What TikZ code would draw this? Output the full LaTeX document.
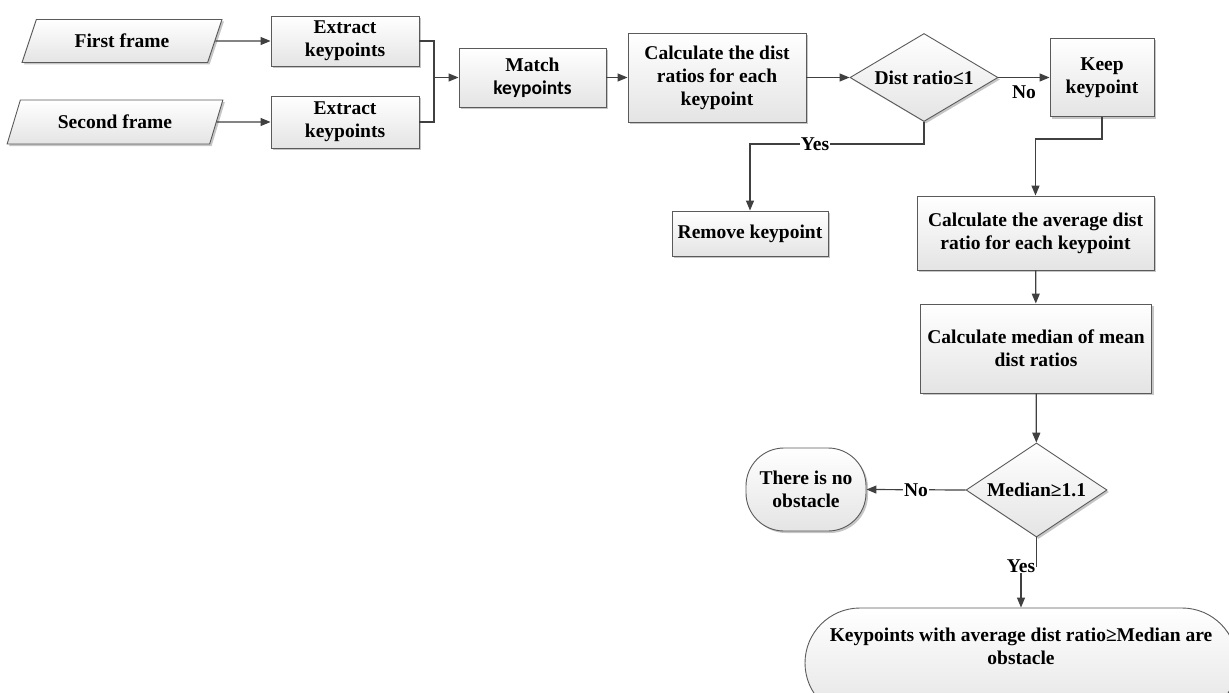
\documentclass[tikz,border=0pt]{standalone}
\usepackage{fontspec}
\setmainfont{Liberation Serif}
\newfontfamily\calib{Carlito}
\usetikzlibrary{shapes.geometric,arrows.meta,shadows}
\definecolor{linec}{HTML}{5A5A5A}
\definecolor{arrc}{HTML}{404040}
\definecolor{boxb}{HTML}{E4E4E4}
\begin{document}
\begin{tikzpicture}[x=1pt,y=-1pt,
  font=\fontsize{19.5}{23}\selectfont\bfseries,
  base/.style={draw=linec, line width=0.9pt, top color=white, bottom color=boxb,
    drop shadow={shadow xshift=2pt,shadow yshift=-2pt,fill=gray!45,opacity=1},
    align=center, inner sep=1pt},
  proc/.style={base, rectangle},
  io/.style={base, trapezium, trapezium left angle=63, trapezium right angle=117, trapezium stretches=true},
  dec/.style={base, diamond, inner sep=0pt},
  term/.style={base, rectangle},
  conn/.style={draw=arrc, line width=1.2pt},
  arr/.style={conn, -{Triangle[length=10pt,width=8pt]}},
  lab/.style={fill=white, inner sep=1pt}]
\useasboundingbox (0,0) rectangle (1229,693);

\node[io, minimum width=200pt, minimum height=43pt] (f1) at (122,41) {First frame};
\node[io, minimum width=216pt, minimum height=44pt] (f2) at (115,122) {Second frame};
\node[proc, minimum width=148pt, minimum height=50pt] (e1) at (345,41) {Extract\\keypoints};
\node[proc, minimum width=148pt, minimum height=52pt] (e2) at (345,122) {Extract\\keypoints};
\node[proc, minimum width=147pt, minimum height=59pt] (m) at (532.5,77.5) {Match\\{\calib keypoints}};
\node[proc, minimum width=178pt, minimum height=89pt] (c) at (717,77.5) {Calculate the dist\\ratios for each\\keypoint};
\node[dec, shape aspect=1.68, minimum width=148pt, minimum height=88pt] (d1) at (924,77.5) {Dist ratio≤1};
\node[proc, minimum width=104pt, minimum height=78pt] (k) at (1102,77.5) {Keep\\keypoint};
\node[proc, minimum width=156pt, minimum height=45pt] (r) at (750,233.5) {Remove keypoint};
\node[proc, minimum width=237pt, minimum height=74pt] (a) at (1035.5,233) {Calculate the average dist\\ratio for each keypoint};
\node[proc, minimum width=231pt, minimum height=89pt] (md) at (1036,348.5) {Calculate median of mean\\dist ratios};
\node[dec, shape aspect=1.5, minimum width=141pt, minimum height=94pt] (d2) at (1036.5,490) {Median≥1.1};
\node[term, minimum width=120pt, minimum height=83pt, rounded corners=38pt] (no) at (806,489.5) {There is no\\obstacle};
\begin{scope}
\clip (0,0) rectangle (1229,693);
\node[term, minimum width=432pt, minimum height=110pt, rounded corners=55pt] (fin) at (1021,663) {};
\end{scope}
\node[align=center] (fint) at (1021,646) {Keypoints with average dist ratio≥Median are\\obstacle};

\coordinate (j) at (434,77.5);
\coordinate (yes1) at (815,144);
\coordinate (yes2) at (1021,566);

\draw[arr] (f1.east) -- (e1.west);
\draw[arr] (f2.east) -- (e2.west);
\draw[conn] (e1.east) -| (j) |- (e2.east);
\draw[arr] (j) -- (m.west);
\draw[arr] (m) -- (c);
\draw[arr] (c) -- (d1);
\draw[arr] (d1.east) -- node[midway, yshift=-15pt] {No} (k.west);
\draw[arr] (d1.south) |- (yes1) node[lab] {Yes} -| (r.north);
\draw[arr] (k.south) -- ++(0,22) -| (a.north);
\draw[arr] (a) -- (md);
\draw[arr] (md) -- (d2);
\draw[arr] (d2.west) -- node[lab] {No} (no.east);
\draw[arr] (d2.south) |- (yes2) node[lab] {Yes} -- (fin.north);
\end{tikzpicture}
\end{document}
